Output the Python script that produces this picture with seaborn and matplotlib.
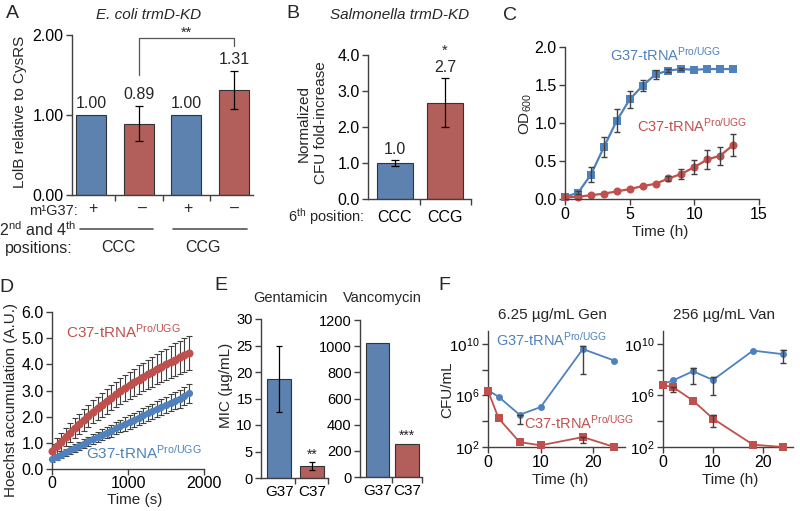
import numpy as np
import pandas as pd
import matplotlib
matplotlib.use('Agg')
import matplotlib.pyplot as plt
from matplotlib.ticker import FormatStrFormatter, NullLocator
import seaborn as sns

# ---- data ----
# A: E. coli trmD-KD, LolB relative to CysRS
a_groups = ['CCC +', 'CCC -', 'CCG +', 'CCG -']
a_vals = [1.00, 0.89, 1.00, 1.31]
a_err = [0.0, 0.22, 0.0, 0.24]
a_text = ['1.00', '0.89', '1.00', '1.31']
a_m1g37 = ['+', '–', '+', '–']

# B: Salmonella trmD-KD, normalized CFU fold-increase
b_groups = ['CCC', 'CCG']
b_vals = [1.0, 2.68]
b_err = [0.08, 0.67]
b_text = ['1.0', '2.7']

# C: growth curves (OD600)
c_time = [0, 1, 2, 3, 4, 5, 6, 7, 8, 9, 10, 11, 12, 13]
c_g37 = [0.03, 0.08, 0.32, 0.68, 1.03, 1.31, 1.49, 1.64, 1.69, 1.71, 1.70, 1.71, 1.71, 1.71]
c_g37_err = [0, 0.02, 0.10, 0.13, 0.15, 0.11, 0.07, 0.06, 0.02, 0.01, 0, 0, 0, 0]
c_c37 = [0.02, 0.03, 0.05, 0.07, 0.10, 0.13, 0.17, 0.20, 0.27, 0.33, 0.42, 0.52, 0.57, 0.71]
c_c37_err = [0, 0, 0, 0, 0, 0, 0, 0, 0.03, 0.07, 0.09, 0.12, 0.12, 0.14]

# D: Hoechst accumulation
d_time = [0, 60, 120, 180, 240, 300, 360, 420, 480, 540, 600, 660, 720, 780, 840, 900,
          960, 1020, 1080, 1140, 1200, 1260, 1320, 1380, 1440, 1500, 1560, 1620, 1680, 1740, 1800]
d_c37 = [0.67, 0.86, 1.04, 1.22, 1.39, 1.56, 1.72, 1.88, 2.03, 2.18, 2.32, 2.46, 2.59, 2.72, 2.85, 2.97,
         3.09, 3.20, 3.31, 3.42, 3.52, 3.62, 3.72, 3.82, 3.91, 4.00, 4.09, 4.18, 4.27, 4.35, 4.44]
d_c37_err = [0.30, 0.32, 0.34, 0.35, 0.37, 0.38, 0.40, 0.41, 0.42, 0.44, 0.45, 0.46, 0.47, 0.48, 0.49, 0.50,
             0.51, 0.52, 0.53, 0.54, 0.55, 0.56, 0.57, 0.58, 0.59, 0.60, 0.61, 0.62, 0.63, 0.64, 0.65]
d_g37 = [0.38, 0.47, 0.55, 0.64, 0.72, 0.81, 0.89, 0.97, 1.06, 1.14, 1.22, 1.31, 1.39, 1.47, 1.55, 1.64,
         1.72, 1.80, 1.88, 1.96, 2.05, 2.13, 2.21, 2.29, 2.37, 2.45, 2.53, 2.61, 2.69, 2.78, 2.90]
d_g37_err = [0.10, 0.11, 0.12, 0.13, 0.14, 0.15, 0.16, 0.17, 0.18, 0.19, 0.20, 0.21, 0.22, 0.23, 0.23, 0.24,
             0.25, 0.26, 0.26, 0.27, 0.28, 0.29, 0.29, 0.30, 0.31, 0.32, 0.32, 0.33, 0.34, 0.35, 0.36]

# E: MIC
e_groups = ['G37', 'C37']
e_gen = [18.75, 2.3]
e_gen_err = [6.25, 0.8]
e_van = [1024, 256]

# F: killing curves, log10 CFU/mL
f_time = [0, 2, 6, 10, 18, 24]
f_gen_g37 = [6.40, 5.90, 4.50, 5.10, 9.60, 8.70]
f_gen_g37_lo = [None, None, 3.80, None, 7.70, None]
f_gen_g37_hi = [None, None, 4.50, None, 9.80, None]
f_gen_c37 = [6.36, 4.23, 2.38, 2.13, 2.77, 2.00]
f_gen_c37_lo = [None, None, None, None, 2.30, None]
f_gen_c37_hi = [None, None, None, None, 2.77, None]
f_van_g37 = [6.90, 7.16, 7.88, 7.20, 9.48, 9.20]
f_van_g37_lo = [None, None, 6.90, 6.05, None, 8.50]
f_van_g37_hi = [None, None, 8.10, 7.45, None, 9.56]
f_van_c37 = [6.80, 6.65, 5.60, 4.20, 2.18, 2.00]
f_van_c37_lo = [None, 6.26, None, 3.55, None, None]
f_van_c37_hi = [None, 6.65, None, 4.50, None, None]

BLUE = '#4F81BD'
RED = '#C0504D'
EDGE = '#333333'
AX = '#404040'
G37_LBL = 'G37-tRNA$^{Pro/UGG}$'
C37_LBL = 'C37-tRNA$^{Pro/UGG}$'

sns.set_theme(style='ticks', rc={
    'axes.edgecolor': AX, 'axes.linewidth': 1.0,
    'xtick.color': AX, 'ytick.color': AX,
    'xtick.labelcolor': 'black', 'ytick.labelcolor': 'black',
    'xtick.major.size': 4, 'ytick.major.size': 4,
    'xtick.labelsize': 11.5, 'ytick.labelsize': 11.5,
})
plt.rcParams['font.family'] = ['Liberation Sans', 'DejaVu Sans']
plt.rcParams['mathtext.default'] = 'regular'

W, H = 800, 511
fig = plt.figure(figsize=(W / 100, H / 100), dpi=100)


def box(x0, y0, x1, y1):
    return [x0 / W, 1 - y1 / H, (x1 - x0) / W, (y1 - y0) / H]


def ftext(x, y, s, **kw):
    kw.setdefault('ha', 'center')
    kw.setdefault('va', 'center')
    kw.setdefault('fontsize', 11)
    fig.text(x / W, 1 - y / H, s, **kw)


def tidy(ax):
    sns.despine(ax=ax)
    ax.tick_params(direction='out', width=1, pad=2)
    ax.set_xlabel('')
    ax.set_ylabel('')


def bar_errs(ax, vals, errs, cap=3):
    idx = [i for i, e in enumerate(errs) if e > 0]
    ax.errorbar(idx, [vals[i] for i in idx], yerr=[errs[i] for i in idx],
                fmt='none', ecolor='black', elinewidth=0.9, capsize=cap, capthick=0.9)


def log_errs(ax, x, lo, hi, color='#404040'):
    for xi, l, h in zip(x, lo, hi):
        if l is None:
            continue
        ax.errorbar([xi], [10 ** h], yerr=[[10 ** h - 10 ** l], [0]], fmt='none',
                    ecolor=color, elinewidth=1, capsize=2.5, capthick=1, zorder=4)
        if h > l:
            ax.plot([xi - 0.5, xi + 0.5], [10 ** h] * 2, color=color, lw=1, zorder=4)


# ---------------- A ----------------
axA = fig.add_axes(box(72, 35, 253, 195))
sns.barplot(x=a_groups, y=a_vals, hue=a_groups, palette=[BLUE, RED, BLUE, RED],
            width=0.63, edgecolor=EDGE, linewidth=0.8, errorbar=None, legend=False, ax=axA)
bar_errs(axA, a_vals, a_err)
for i, (v, e, t) in enumerate(zip(a_vals, a_err, a_text)):
    axA.text(i, v + e + 0.05, t, ha='center', va='bottom', fontsize=11.5)
axA.plot([1, 1, 3, 3], [1.50, 1.96, 1.96, 1.86], color='#555555', lw=0.9, clip_on=False)
axA.text(2, 1.94, '**', ha='center', va='bottom', fontsize=10.5)
axA.set_xlim(-0.40, 3.40)
axA.set_ylim(0, 2)
axA.set_yticks([0, 1, 2])
axA.yaxis.set_major_formatter(FormatStrFormatter('%.2f'))
axA.set_xticks([0.5, 1.5, 2.5])
axA.set_xticklabels([])
tidy(axA)
ftext(20, 112, 'LolB relative to CysRS', rotation=90)
ftext(149, 15, 'E. coli trmD-KD', style='italic', fontsize=11)
ftext(78, 211, 'm¹G37:', ha='right', fontsize=10.5)
for xc, s in zip([93, 142, 188, 235], a_m1g37):
    ftext(xc, 208, s, fontsize=11.5)
axA.plot([-0.23, 1.30], [-0.215, -0.215], color='#555555', lw=1.2, clip_on=False,
         transform=axA.get_xaxis_transform())
axA.plot([1.72, 3.27], [-0.215, -0.215], color='#555555', lw=1.2, clip_on=False,
         transform=axA.get_xaxis_transform())
ftext(76, 230, '2$^{nd}$ and 4$^{th}$', ha='right', fontsize=11.5)
ftext(73, 248, 'positions:', ha='right', fontsize=11.5)
ftext(118, 248, 'CCC', fontsize=11.5)
ftext(203, 248, 'CCG', fontsize=11.5)

# ---------------- B ----------------
axB = fig.add_axes(box(368, 55, 471, 199))
sns.barplot(x=b_groups, y=b_vals, hue=b_groups, palette=[BLUE, RED],
            width=0.72, edgecolor=EDGE, linewidth=0.8, errorbar=None, legend=False, ax=axB)
bar_errs(axB, b_vals, b_err)
for i, (v, e, t) in enumerate(zip(b_vals, b_err, b_text)):
    axB.text(i, v + e + 0.10, t, ha='center', va='bottom', fontsize=11.5)
axB.text(1, 3.92, '*', ha='center', va='bottom', fontsize=10.5)
axB.set_xlim(-0.54, 1.52)
axB.set_ylim(0, 4)
axB.set_yticks([0, 1, 2, 3, 4])
axB.yaxis.set_major_formatter(FormatStrFormatter('%.1f'))
tidy(axB)
axB.set_xticks([0, 1])
axB.set_xticklabels(b_groups, fontsize=11.5)
axB.set_xticks([0.5, 1.52], minor=True)
axB.tick_params(axis='x', which='major', length=0, pad=8)
axB.tick_params(axis='x', which='minor', length=4, width=1, direction='out')
ftext(304, 123, 'Normalized', rotation=90)
ftext(321, 123, 'CFU fold-increase', rotation=90)
ftext(400, 15, 'Salmonella trmD-KD', style='italic', fontsize=11)
ftext(364, 217, '6$^{th}$ position:', ha='right', fontsize=10.5)

# ---------------- C ----------------
axC = fig.add_axes(box(565, 47, 759, 199))
for y, err, col, mk, ms in [(c_g37, c_g37_err, BLUE, 's', 5.2), (c_c37, c_c37_err, RED, 'o', 5.8)]:
    sns.lineplot(x=c_time, y=y, color=col, marker=mk, markersize=ms, markeredgewidth=0,
                 linewidth=1.6, clip_on=False, ax=axC)
    idx = [i for i, e in enumerate(err) if e > 0]
    axC.errorbar([c_time[i] for i in idx], [y[i] for i in idx], yerr=[err[i] for i in idx],
                 fmt='none', ecolor='#404040', elinewidth=1, capsize=2.5, capthick=1, zorder=4)
axC.set_xlim(0, 15)
axC.set_ylim(0, 2)
axC.set_xticks([0, 5, 10, 15])
axC.set_yticks([0, 0.5, 1.0, 1.5, 2.0])
axC.yaxis.set_major_formatter(FormatStrFormatter('%.1f'))
tidy(axC)
axC.text(3.5, 1.90, G37_LBL, color=BLUE, fontsize=10.5, va='center')
axC.text(5.6, 0.97, C37_LBL, color=RED, fontsize=10.5, va='center')
ftext(526, 114, 'OD$_{600}$', rotation=90)
ftext(660, 232, 'Time (h)')

# ---------------- D ----------------
axD = fig.add_axes(box(52, 312, 204, 469))
axD.errorbar(d_time, d_c37, yerr=d_c37_err, fmt='none', ecolor='#404040',
             elinewidth=0.8, capsize=2, capthick=0.8, zorder=1)
axD.errorbar(d_time, d_g37, yerr=d_g37_err, fmt='none', ecolor='#404040',
             elinewidth=0.8, capsize=2, capthick=0.8, zorder=1)
sns.lineplot(x=d_time, y=d_c37, color=RED, marker='o', markersize=5.8, markeredgewidth=0,
             linewidth=4, clip_on=False, ax=axD, zorder=3)
sns.lineplot(x=d_time, y=d_g37, color=BLUE, marker='o', markersize=5.2, markeredgewidth=0,
             linewidth=3.5, clip_on=False, ax=axD, zorder=3)
axD.set_xlim(0, 2000)
axD.set_ylim(0, 6)
axD.set_xticks([0, 1000, 2000])
axD.set_yticks([0, 1, 2, 3, 4, 5, 6])
axD.yaxis.set_major_formatter(FormatStrFormatter('%.1f'))
tidy(axD)
axD.tick_params(axis='x', pad=1)
axD.text(184, 5.24, C37_LBL, color=RED, fontsize=11, va='center')
axD.text(447, 0.61, G37_LBL, color=BLUE, fontsize=11, va='center')
ftext(11, 400, 'Hoechst accumulation (A.U.)', rotation=90)
ftext(135, 500, 'Time (s)')

# ---------------- E ----------------
axE1 = fig.add_axes(box(261, 319, 328, 478))
sns.barplot(x=e_groups, y=e_gen, hue=e_groups, palette=[BLUE, RED], width=0.75,
            edgecolor=EDGE, linewidth=0.8, errorbar=None, legend=False, ax=axE1)
bar_errs(axE1, e_gen, e_gen_err, cap=2.5)
axE1.text(1, 3.0, '**', ha='center', va='bottom', fontsize=10)
axE1.set_xlim(-0.56, 1.5)
axE1.set_ylim(0, 30)
axE1.set_yticks([0, 5, 10, 15, 20, 25, 30])

axE2 = fig.add_axes(box(360, 320, 422, 477))
sns.barplot(x=e_groups, y=e_van, hue=e_groups, palette=[BLUE, RED], width=0.77,
            edgecolor=EDGE, linewidth=0.8, errorbar=None, legend=False, ax=axE2)
axE2.text(1, 262, '***', ha='center', va='bottom', fontsize=10)
axE2.set_xlim(-0.57, 1.5)
axE2.set_ylim(0, 1200)
axE2.set_yticks([0, 200, 400, 600, 800, 1000, 1200])
for ax in (axE1, axE2):
    tidy(ax)
    ax.tick_params(axis='y', labelsize=10.5)
    ax.set_xticks([0, 1])
    ax.set_xticklabels(e_groups, fontsize=11)
    ax.set_xticks([0.5, 1.5], minor=True)
    ax.tick_params(axis='x', which='major', length=0, pad=5)
    ax.tick_params(axis='x', which='minor', length=4, width=1, direction='out')
ftext(226, 385, 'MIC (µg/mL)', rotation=90)
ftext(290, 298, 'Gentamicin', fontsize=10.5)
ftext(382, 298, 'Vancomycin', fontsize=10.5)

# ---------------- F ----------------
axF1 = fig.add_axes(box(488, 331, 625, 447))
axF2 = fig.add_axes(box(663, 331, 793, 447))
for ax, g, glo, ghi, c, clo, chi in [
        (axF1, f_gen_g37, f_gen_g37_lo, f_gen_g37_hi, f_gen_c37, f_gen_c37_lo, f_gen_c37_hi),
        (axF2, f_van_g37, f_van_g37_lo, f_van_g37_hi, f_van_c37, f_van_c37_lo, f_van_c37_hi)]:
    sns.lineplot(x=f_time, y=10 ** np.array(g), color=BLUE, marker='o', markersize=5,
                 markeredgewidth=0, linewidth=1.3, clip_on=False, ax=ax, zorder=2)
    sns.lineplot(x=f_time, y=10 ** np.array(c), color=RED, marker='s', markersize=6.2,
                 markeredgewidth=0, linewidth=1.3, clip_on=False, ax=ax, zorder=3)
    log_errs(ax, f_time, glo, ghi)
    log_errs(ax, f_time, clo, chi)
    ax.set_yscale('log')
    ax.set_xlim(0, 26)
    ax.set_ylim(1e2, 1e11)
    ax.set_xticks([0, 10, 20])
    ax.set_yticks([1e2, 1e4, 1e6, 1e8, 1e10])
    ax.set_yticklabels(['10$^{2}$', '', '10$^{6}$', '', '10$^{10}$'], fontsize=11)
    ax.yaxis.set_minor_locator(NullLocator())
    tidy(ax)
    ax.tick_params(axis='x', labelsize=11.5)
axF1.text(1.5, 10 ** 10.3, G37_LBL, color=BLUE, fontsize=10.5, va='center')
axF1.text(6.8, 10 ** 3.85, C37_LBL, color=RED, fontsize=10.5, va='center', clip_on=False)
ftext(447, 390, 'CFU/mL', rotation=90)
ftext(552, 315, '6.25 µg/mL Gen')
ftext(724, 315, '256 µg/mL Van')
ftext(560, 480, 'Time (h)')
ftext(730, 480, 'Time (h)')

# panel letters
for x, y, s in [(12, 13, 'A'), (293, 14, 'B'), (510, 15, 'C'),
                (6, 287, 'D'), (221, 286, 'E'), (444, 285, 'F')]:
    ftext(x, y, s, fontsize=14)

fig.savefig('out.png', dpi=100)
